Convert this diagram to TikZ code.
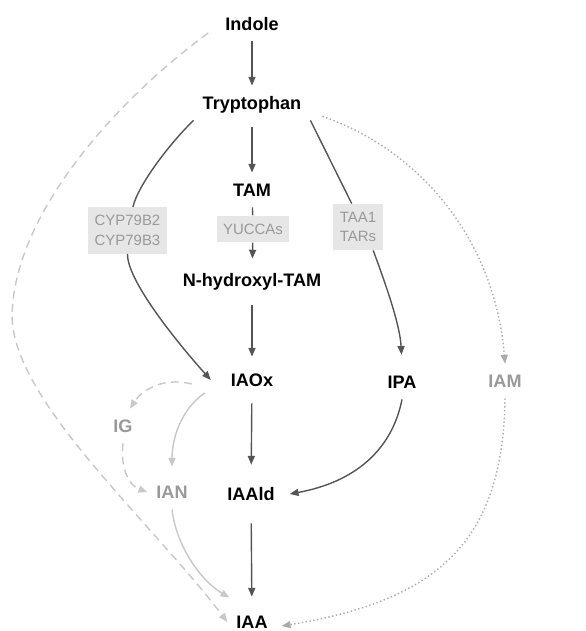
\documentclass[tikz,border=0pt]{standalone}
\usepackage{fontspec}
\setmainfont{Liberation Sans}
\usetikzlibrary{arrows.meta}
\definecolor{darkline}{HTML}{555555}
\definecolor{lightline}{HTML}{C8C8C8}
\definecolor{greytext}{HTML}{999999}
\definecolor{boxfill}{HTML}{E6E6E6}

\begin{document}
\begin{tikzpicture}[x=0.02cm, y=-0.02cm,
    metab/.style={font=\fontsize{10.3}{12}\selectfont\bfseries, text height=7.4pt, text depth=0pt, inner xsep=5pt, inner ysep=6pt},
    minor/.style={metab, text=greytext},
    enzyme/.style={fill=boxfill, text=greytext, font=\fontsize{8.5}{11.3}\selectfont, align=center, inner xsep=3.7pt, inner ysep=4.5pt},
    link/.style={draw=darkline, line width=0.8pt},
    arrow/.style={link, -{Triangle[length=5pt, width=4pt]}},
    side/.style={draw=lightline, line width=0.8pt, -{Triangle[length=5pt, width=4pt]}},
    sidedash/.style={side, dash pattern=on 4.5pt off 3pt},
    sidedot/.style={side, draw=lightline!85!black, dash pattern=on 0.8pt off 1.4pt}]
        \useasboundingbox (0,0) rectangle (585,631);

        % Nodes
        \node[metab] (indole) at (252,24) {Indole};
        \node[metab] (trp) at (252,103) {Tryptophan};
        \node[metab] (tam) at (252,190) {TAM};
        \node[enzyme] (yucca) at (253,229) {YUCCAs};
        \node[metab] (nht) at (252,280) {N-hydroxyl-TAM};
        \node[enzyme] (cyp) at (127.5,230.5) {CYP79B2\\CYP79B3};
        \node[enzyme] (taa) at (358,227) {TAA1\\TARs};
        \node[metab] (iaox) at (252,380) {IAOx};
        \node[metab] (ipa) at (402,382) {IPA};
        \node[minor] (iam) at (505,381) {IAM};
        \node[minor] (ig) at (123,426) {IG};
        \node[minor] (ian) at (172,492) {IAN};
        \node[metab] (iaald) at (251,494) {IAAld};
        \node[metab] (iaa) at (252,622) {IAA};

        % Arrows
        \draw[arrow] (indole) -- (trp);
        \draw[arrow, shorten <=4pt] (trp) -- (tam);
        \draw[link] (tam) -- (yucca);
        \draw[arrow, shorten >=2.3pt] (yucca) -- (nht);
        \draw[arrow, shorten <=4.5pt, shorten >=3.4pt] (nht) -- (iaox);
        \draw[arrow, shorten <=3.4pt, shorten >=6.8pt] (iaox) -- (iaald);
        \draw[arrow, shorten <=6.8pt, shorten >=4.5pt] (iaald) -- (iaa);
        \draw[link] (trp.south west) .. controls (170,143) and (138,185) .. (cyp.77);
        \draw[arrow] (cyp.south) .. controls (127,280) and (175,340) .. ([shift={(-11,0)}]iaox.west);
        \draw[link] (trp.south east) -- (taa.105);
        \draw[arrow, shorten >=5.6pt] (taa.-57) .. controls (386,285) and (400,325) .. (ipa.north);
        \draw[arrow] (ipa.south) .. controls (392,450) and (355,482) .. ([shift={(6,0)}]iaald.east);

        % side routes
        \draw[sidedash] ([shift={(-30,4)}]iaox.west) .. controls (160,376) and (140,393) .. ([shift={(7,0)}]ig.north);
        \draw[sidedash] (ig.south) .. controls (120,470) and (130,486) .. (ian.west);
        \draw[side, shorten >=4.5pt] ([shift={(-17,13)}]iaox.west) .. controls (180,410) and (172,440) .. (ian.north);
        \draw[side] (ian.south) .. controls (176,545) and (200,580) .. ([shift={(2,-7)}]iaa.north west);
        \draw[sidedash] ([shift={(-8,9)}]indole.west) .. controls (130,90) and (15,205) .. (12,315)
            .. controls (12,400) and (150,520) .. (iaa.west);
        \draw[sidedot] ([shift={(12,-4)}]trp.south east) .. controls (420,150) and (495,240) .. (iam.north);
        \draw[sidedot] (iam.south) .. controls (503,540) and (440,600) .. ([shift={(5,4)}]iaa.east);
\end{tikzpicture}
\end{document}
